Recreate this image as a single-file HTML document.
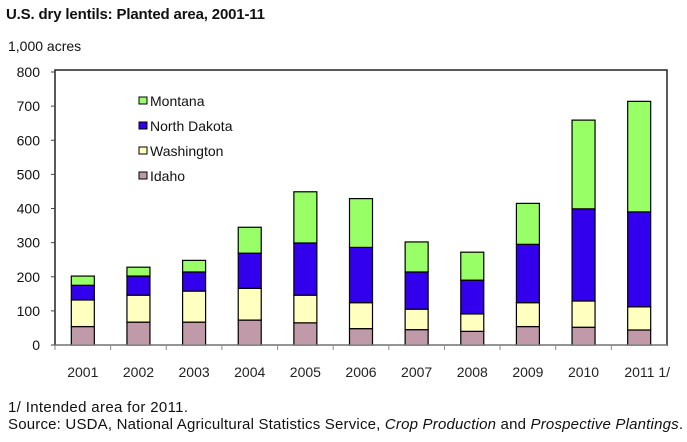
<!DOCTYPE html>
<html><head><meta charset="utf-8"><style>
body{margin:0;background:#fff;width:687px;height:442px;overflow:hidden;font-family:"Liberation Sans",sans-serif}
svg{display:block}
</style></head><body>
<svg id="c" width="687" height="442">
<text x="6" y="19" font-size="15" font-weight="bold" fill="#111" textLength="259">U.S. dry lentils:  Planted area, 2001-11</text>
<text x="8" y="51" font-size="14" fill="#111">1,000 acres</text>
<text x="8" y="412" font-size="15" fill="#111" textLength="180">1/ Intended area for 2011.</text>
<text x="8" y="429" font-size="15" fill="#111" textLength="675">Source: USDA, National Agricultural Statistics Service, <tspan font-style="italic">Crop Production</tspan> and <tspan font-style="italic">Prospective Plantings</tspan>.</text>
</svg>
<script>
const years=["2001","2002","2003","2004","2005","2006","2007","2008","2009","2010","2011 1/"];
const idaho=[54,67,67,73,65,48,45,40,54,52,44];
const washington=[78,79,91,93,81,76,60,51,70,77,68];
const northDakota=[43,56,56,103,153,162,109,99,171,270,278];
const montana=[27,26,34,76,150,143,88,82,120,260,324];
const yTicks=[0,100,200,300,400,500,600,700,800];
const series=[["idaho",idaho,"#c09aa8"],["washington",washington,"#ffffc0"],["north-dakota",northDakota,"#3300ee"],["montana",montana,"#99ff66"]];
const legendNames=["Montana","North Dakota","Washington","Idaho"];
const legendColors=["#99ff66","#3300ee","#ffffc0","#c09aa8"];
const NS="http://www.w3.org/2000/svg";
const svg=document.getElementById('c');
const L=55,R=667,T=72,B=345,MAX=800;
const y=v=>B-(v/MAX)*(B-T);
const bw=(R-L)/years.length;
const x=i=>L+bw*i;
function el(t,a){const e=document.createElementNS(NS,t);for(const k in a)e.setAttribute(k,a[k]);svg.appendChild(e);return e;}
const frame=el('rect',{x:L,y:T-2,width:R-L,height:B-T+2,fill:'none',stroke:'#222','stroke-width':1.5});


yTicks.forEach(v=>{
 const tk=el('line',{x1:L-4,x2:L,y1:y(v),y2:y(v),stroke:'#444'});
 
 
 const t=el('text',{x:40,y:y(v)+5,'text-anchor':'end','font-size':14,fill:'#111'});
 t.textContent=v;
 
 
});
years.forEach((yr,i)=>{
 const tk=el('line',{x1:x(i),x2:x(i),y1:B,y2:B+5,stroke:'#888'});
 
 
 const t=el('text',{x:x(i)+bw/2+(i==10?8:0),y:377,'text-anchor':'middle','font-size':14,fill:'#222'});
 t.textContent=yr;
 
 
 let cum=0;
 series.forEach(([nm,arr,col])=>{
  const v=arr[i];
  const r=el('rect',{x:x(i)+bw/2-11.5,y:y(cum+v),width:23,height:y(cum)-y(cum+v),fill:col,stroke:'#000','stroke-width':1.2});
  
  
  cum+=v;
 });
});
const axisLine=el('line',{x1:L,x2:R,y1:B,y2:B,stroke:'#999'});


legendNames.forEach((n,k)=>{
 const ly=106+k*25;
 const s=el('rect',{x:139,y:ly-9,width:8,height:7,fill:legendColors[k],stroke:'#000','stroke-width':1});
 
 
 const t=el('text',{x:150,y:ly,'font-size':14,fill:'#111'});
 t.textContent=n;
 
 
});
</script>
</body></html>
